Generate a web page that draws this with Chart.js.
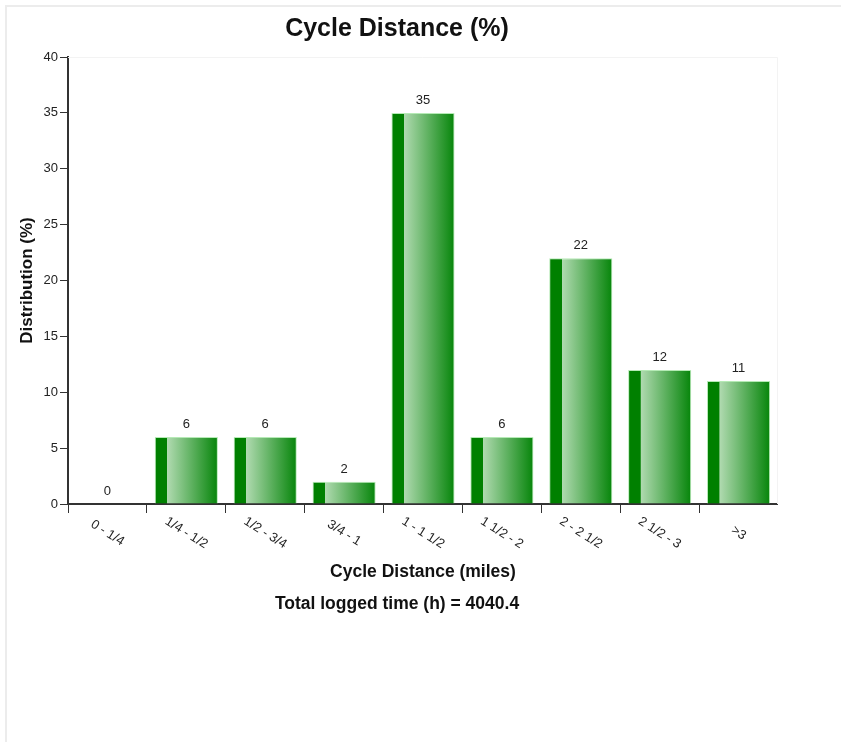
<!DOCTYPE html>
<html>
<head>
<meta charset="utf-8">
<script src="https://cdn.jsdelivr.net/npm/chart.js@4.4.1/dist/chart.umd.min.js"></script>
<style>
  body { margin: 0; background: #fff; }
  #frame { position: absolute; left: 5px; top: 5px; width: 900px; height: 800px;
           border-left: 2px solid #ececec; border-top: 2px solid #ececec; }
  #wrap { position: absolute; left: 16px; top: 0; width: 762px; height: 742px; }
</style>
</head>
<body>
<div id="frame"></div>
<div id="wrap"><canvas id="distChart" width="762" height="742"></canvas></div>
<script>
const distanceBands = ['0 - 1/4', '1/4 - 1/2', '1/2 - 3/4', '3/4 - 1', '1 - 1 1/2', '1 1/2 - 2', '2 - 2 1/2', '2 1/2 - 3', '>3'];
const distributionPct = [0, 6, 6, 2, 35, 6, 22, 12, 11];
const yTicks = [0, 5, 10, 15, 20, 25, 30, 35, 40];
const totalLoggedTime = 4040.4;

const FONT = "'Liberation Sans', Arial, sans-serif";
const BAR_FRACTION = 0.8;

// per-bar horizontal gradient: dark strip on the left, light to dark green across
function barGradient(ctx) {
    const chart = ctx.chart;
    const xs = chart.scales.x;
    if (!chart.chartArea || !xs) return '#008000';
    const w = (xs.width / distanceBands.length) * BAR_FRACTION;
    const cx = xs.getPixelForValue(ctx.dataIndex);
    const left = cx - w / 2;
    const g = chart.ctx.createLinearGradient(left, 0, left + w, 0);
    g.addColorStop(0, '#008000');
    g.addColorStop(0.195, '#008000');
    g.addColorStop(0.2, '#b0dab0');
    g.addColorStop(1, '#06850a');
    return g;
}

const plotFrame = {
    id: 'plotFrame',
    beforeDatasetsDraw(chart) {
        const { ctx, chartArea: a } = chart;
        ctx.save();
        ctx.strokeStyle = '#f3f3f3';
        ctx.lineWidth = 1;
        ctx.beginPath();
        ctx.moveTo(a.left, a.top + 0.5);
        ctx.lineTo(a.right - 0.5, a.top + 0.5);
        ctx.lineTo(a.right - 0.5, a.bottom);
        ctx.stroke();
        ctx.restore();
    }
};

const valueLabels = {
    id: 'valueLabels',
    afterDatasetsDraw(chart) {
        const { ctx } = chart;
        const meta = chart.getDatasetMeta(0);
        ctx.save();
        ctx.font = '13px ' + FONT;
        ctx.fillStyle = '#222';
        ctx.textAlign = 'center';
        ctx.textBaseline = 'bottom';
        meta.data.forEach((bar, i) => {
            ctx.fillText(String(distributionPct[i]), bar.x, bar.y - 6);
        });
        ctx.restore();
    }
};

const slantedLabels = {
    id: 'slantedLabels',
    afterDraw(chart) {
        const { ctx, chartArea } = chart;
        const xs = chart.scales.x;
        ctx.save();
        ctx.font = '13px ' + FONT;
        ctx.fillStyle = '#222';
        ctx.textAlign = 'center';
        ctx.textBaseline = 'middle';
        distanceBands.forEach((label, i) => {
            ctx.save();
            ctx.translate(xs.getPixelForValue(i), chartArea.bottom + 29);
            ctx.rotate(0.56);
            ctx.fillText(label, 0, 0);
            ctx.restore();
        });
        ctx.restore();
    }
};

function createChart(canvasCtx) {
    return new Chart(canvasCtx, {
        type: 'bar',
        data: {
            labels: distanceBands,
            datasets: [{
                label: 'Distribution (%)',
                data: distributionPct,
                backgroundColor: barGradient,
                borderColor: 'rgba(150, 225, 150, 0.7)',
                borderWidth: 1,
                categoryPercentage: 1,
                barPercentage: BAR_FRACTION
            }]
        },
        options: {
            responsive: false,
            animation: false,
            layout: { padding: { left: 0, right: 0, top: 0, bottom: 127.5 } },
            scales: {
                x: {
                    afterFit: (s) => { s.height = 89.5; },
                    grid: {
                        drawOnChartArea: false,
                        tickLength: 9,
                        tickColor: (c) => c.index >= distanceBands.length ? 'rgba(0,0,0,0)' : '#333'
                    },
                    border: { color: '#333', width: 2 },
                    ticks: { display: false },
                    title: {
                        display: true,
                        text: 'Cycle Distance (miles)',
                        color: '#111',
                        font: { family: FONT, size: 17.5, weight: 'bold' },
                        padding: { top: 0, bottom: 11 }
                    }
                },
                y: {
                    min: 0,
                    max: 40,
                    afterFit: (s) => { s.width = 52; },
                    afterBuildTicks: (s) => { s.ticks = yTicks.map(v => ({ value: v })); },
                    grid: { drawOnChartArea: false, tickLength: 8, tickColor: '#333' },
                    border: { color: '#333', width: 2 },
                    ticks: { color: '#222', padding: 2, font: { family: FONT, size: 13 } },
                    title: {
                        display: true,
                        text: 'Distribution (%)',
                        color: '#111',
                        font: { family: FONT, size: 17, weight: 'bold' },
                        padding: { top: 0.8, bottom: 0 }
                    }
                }
            },
            plugins: {
                legend: { display: false },
                tooltip: { enabled: false },
                title: {
                    display: true,
                    text: 'Cycle Distance (%)',
                    color: '#111',
                    font: { family: FONT, size: 25, weight: 'bold' },
                    padding: { top: 14, bottom: 13 }
                },
                subtitle: {
                    display: true,
                    position: 'bottom',
                    text: 'Total logged time (h) = ' + totalLoggedTime,
                    color: '#111',
                    font: { family: FONT, size: 17.5, weight: 'bold' },
                    padding: { top: 0, bottom: 0 }
                }
            }
        },
        plugins: [plotFrame, valueLabels, slantedLabels]
    });
}

document.addEventListener('DOMContentLoaded', () => {
    const ctx = document.getElementById('distChart').getContext('2d');
    createChart(ctx);
});
</script>
</body>
</html>
